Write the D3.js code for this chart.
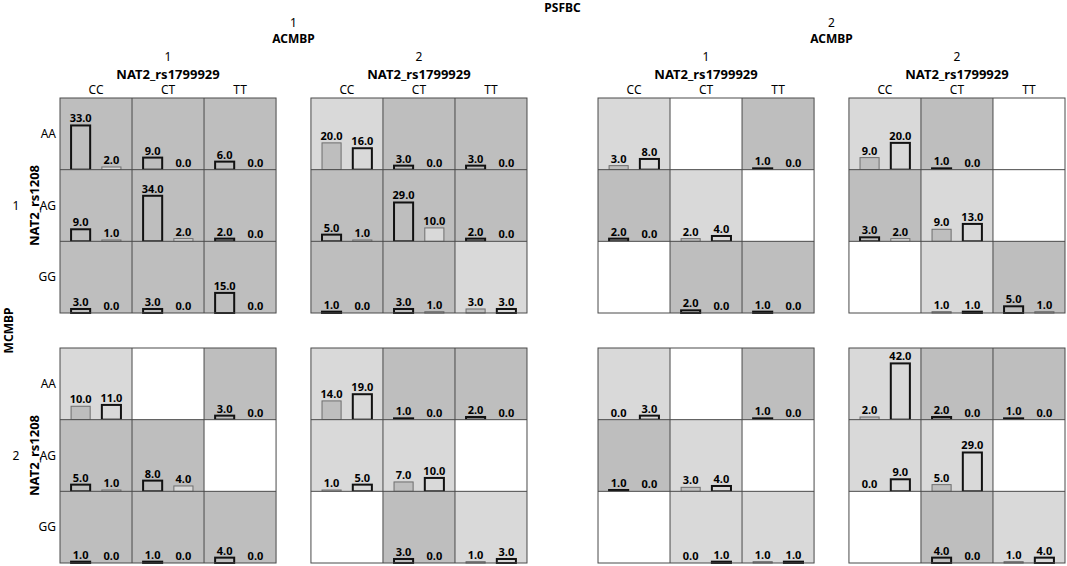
<!DOCTYPE html>
<html>
<head>
<meta charset="utf-8">
<script src="https://cdn.jsdelivr.net/npm/d3@7"></script>
<style>
  body { margin: 0; background: #fff; }
  text { font-family: "Noto Sans", sans-serif; fill: #000; }
</style>
</head>
<body>
<div id="chart"></div>
<script>
// factor levels
const mcmbpLevels = ["1", "2"];
const psfbcLevels = ["1", "2"];
const acmbpLevels = ["1", "2"];
const rs1208Levels = ["AA", "AG", "GG"];
const rs1799929Levels = ["CC", "CT", "TT"];

// one entry per panel: MCMBP 1 (PSFBC1/ACMBP1, PSFBC1/ACMBP2, PSFBC2/ACMBP1, PSFBC2/ACMBP2), then MCMBP 2
// cells in each panel: AA-CC, AA-CT, AA-TT, AG-CC, ... GG-TT ; null = no cases
const class1Counts = [
  [33, 9, 6, 9, 34, 2, 3, 3, 15],
  [20, 3, 3, 5, 29, 2, 1, 3, 3],
  [3, null, 1, 2, 2, null, null, 2, 1],
  [9, 1, null, 3, 9, null, null, 1, 5],
  [10, null, 3, 5, 8, null, 1, 1, 4],
  [14, 1, 2, 1, 7, null, null, 3, 1],
  [0, null, 1, 1, 3, null, null, 0, 1],
  [2, 2, 1, 0, 5, null, null, 4, 1]
];
const class2Counts = [
  [2, 0, 0, 1, 2, 0, 0, 0, 0],
  [16, 0, 0, 1, 10, 0, 0, 1, 3],
  [8, null, 0, 0, 4, null, null, 0, 0],
  [20, 0, null, 2, 13, null, null, 1, 1],
  [11, null, 0, 1, 4, null, 0, 0, 0],
  [19, 0, 0, 5, 10, null, null, 0, 3],
  [3, null, 0, 0, 4, null, null, 1, 1],
  [42, 0, 0, 9, 29, null, null, 0, 4]
];
// predicted class of each cell (0 = empty)
const predictedClass = [
  [1, 1, 1, 1, 1, 1, 1, 1, 1],
  [2, 1, 1, 1, 1, 1, 1, 1, 2],
  [2, 0, 1, 1, 2, 0, 0, 1, 1],
  [2, 1, 0, 1, 2, 0, 0, 2, 1],
  [2, 0, 1, 1, 1, 0, 1, 1, 1],
  [2, 1, 1, 2, 2, 0, 0, 1, 2],
  [2, 0, 1, 1, 2, 0, 0, 2, 2],
  [2, 1, 1, 2, 2, 0, 0, 1, 2]
];

const width = 1067, height = 566;
const classColor = {1: "#bebebe", 2: "#d9d9d9"};

const svg = d3.select("#chart").append("svg")
    .attr("width", width)
    .attr("height", height);

// panel layout
let xGroup = d3.scaleBand().domain(psfbcLevels).range([60, 1065]).paddingInner(0.132);
let xPanel = d3.scaleBand().domain(acmbpLevels).range([0, xGroup.bandwidth()]).paddingInner(0.139);
let yPanel = d3.scaleBand().domain(mcmbpLevels).range([98, 563]).paddingInner(0.14);

let panelW = xPanel.bandwidth(), panelH = yPanel.bandwidth();
let xCell = d3.scaleBand().domain(rs1799929Levels).range([0, panelW]);
let yCell = d3.scaleBand().domain(rs1208Levels).range([0, panelH]);
let cw = xCell.bandwidth(), ch = yCell.bandwidth();
let xBar = d3.scaleBand().domain([1, 2]).range([0, cw]).paddingInner(0.38).paddingOuter(0.36);

let maxCount = d3.max(class1Counts.concat(class2Counts).flat());
let yBar = d3.scaleLinear().domain([0, maxCount]).range([0, ch * 0.785]);

// top titles
let full = xGroup.range();
svg.append("text").attr("x", (full[0] + full[1]) / 2).attr("y", 12)
    .attr("text-anchor", "middle").style("font-weight", "bold").style("font-size", "12px").text("PSFBC");

psfbcLevels.forEach((p) => {
  let cx = xGroup(p) + xGroup.bandwidth() / 2;
  svg.append("text").attr("x", cx).attr("y", 27).attr("text-anchor", "middle")
      .style("font-size", "12px").text(p);
  svg.append("text").attr("x", cx).attr("y", 43).attr("text-anchor", "middle")
      .style("font-weight", "bold").style("font-size", "12px").text("ACMBP");
  acmbpLevels.forEach((a) => {
    let px = xGroup(p) + xPanel(a);
    svg.append("text").attr("x", px + panelW / 2).attr("y", 61).attr("text-anchor", "middle")
        .style("font-size", "12px").text(a);
    svg.append("text").attr("x", px + panelW / 2).attr("y", 79).attr("text-anchor", "middle")
        .style("font-weight", "bold").style("font-size", "13px").text("NAT2_rs1799929");
    rs1799929Levels.forEach((c) => {
      svg.append("text").attr("x", px + xCell(c) + cw / 2).attr("y", 94).attr("text-anchor", "middle")
          .style("font-size", "12px").text(c);
    });
  });
});

// left titles
let yr = yPanel.range();
svg.append("text").attr("transform", "translate(13," + (yr[0] + yr[1]) / 2 + ") rotate(-90)")
    .attr("text-anchor", "middle").style("font-weight", "bold").style("font-size", "12px").text("MCMBP");

mcmbpLevels.forEach((m) => {
  let cy = yPanel(m) + panelH / 2;
  svg.append("text").attr("x", 16).attr("y", cy).attr("dy", "0.35em").attr("text-anchor", "middle")
      .style("font-size", "12px").text(m);
  svg.append("text").attr("transform", "translate(39," + cy + ") rotate(-90)")
      .attr("text-anchor", "middle").style("font-weight", "bold").style("font-size", "13px").text("NAT2_rs1208");
  rs1208Levels.forEach((r) => {
    svg.append("text").attr("x", 56).attr("y", yPanel(m) + yCell(r) + ch / 2).attr("dy", "0.35em")
        .attr("text-anchor", "end").style("font-size", "12px").text(r);
  });
});

// panels
let panels = [];
mcmbpLevels.forEach((m) => psfbcLevels.forEach((p) => acmbpLevels.forEach((a) => {
  panels.push({m: m, p: p, a: a});
})));

panels.forEach((pn, i) => {
  let g = svg.append("g")
      .attr("transform", "translate(" + (xGroup(pn.p) + xPanel(pn.a)) + "," + yPanel(pn.m) + ")");

  let cells = [];
  rs1208Levels.forEach((r, ri) => rs1799929Levels.forEach((c, ci) => {
    let k = ri * 3 + ci;
    cells.push({r: r, c: c, pred: predictedClass[i][k], v1: class1Counts[i][k], v2: class2Counts[i][k]});
  }));

  let cell = g.selectAll(".cell")
      .data(cells)
      .enter().append("g")
      .attr("class", "cell")
      .attr("transform", (d) => "translate(" + xCell(d.c) + "," + yCell(d.r) + ")");

  cell.append("rect")
      .attr("width", cw).attr("height", ch)
      .style("fill", (d) => d.pred ? classColor[d.pred] : "#fff");

  let bars = cell.filter((d) => d.pred).selectAll(".bar")
      .data((d) => [{cls: 1, v: d.v1, pred: d.pred}, {cls: 2, v: d.v2, pred: d.pred}])
      .enter().append("g");

  bars.append("rect")
      .attr("x", (d) => xBar(d.cls))
      .attr("y", (d) => ch - yBar(d.v))
      .attr("width", xBar.bandwidth())
      .attr("height", (d) => yBar(d.v))
      .style("fill", (d) => classColor[d.cls])
      .style("stroke", (d) => d.cls === d.pred ? "#111" : "#6e6e6e")
      .style("stroke-width", (d) => d.cls === d.pred ? 2 : 1);

  bars.append("text")
      .attr("x", (d) => xBar(d.cls) + xBar.bandwidth() / 2)
      .attr("y", (d) => ch - yBar(d.v) - 3)
      .attr("text-anchor", "middle")
      .style("font-weight", "bold").style("font-size", "11px")
      .text((d) => d.v.toFixed(1));

  // grid lines
  g.selectAll(".vline").data(rs1799929Levels.slice(1)).enter().append("line")
      .attr("x1", (d) => xCell(d)).attr("x2", (d) => xCell(d))
      .attr("y1", 0).attr("y2", panelH)
      .style("stroke", "#4a4a4a").style("stroke-width", 1);
  g.selectAll(".hline").data(rs1208Levels.slice(1)).enter().append("line")
      .attr("y1", (d) => yCell(d)).attr("y2", (d) => yCell(d))
      .attr("x1", 0).attr("x2", panelW)
      .style("stroke", "#4a4a4a").style("stroke-width", 1);
  g.append("rect")
      .attr("width", panelW).attr("height", panelH)
      .style("fill", "none").style("stroke", "#4a4a4a").style("stroke-width", 1);
});
</script>
</body>
</html>
